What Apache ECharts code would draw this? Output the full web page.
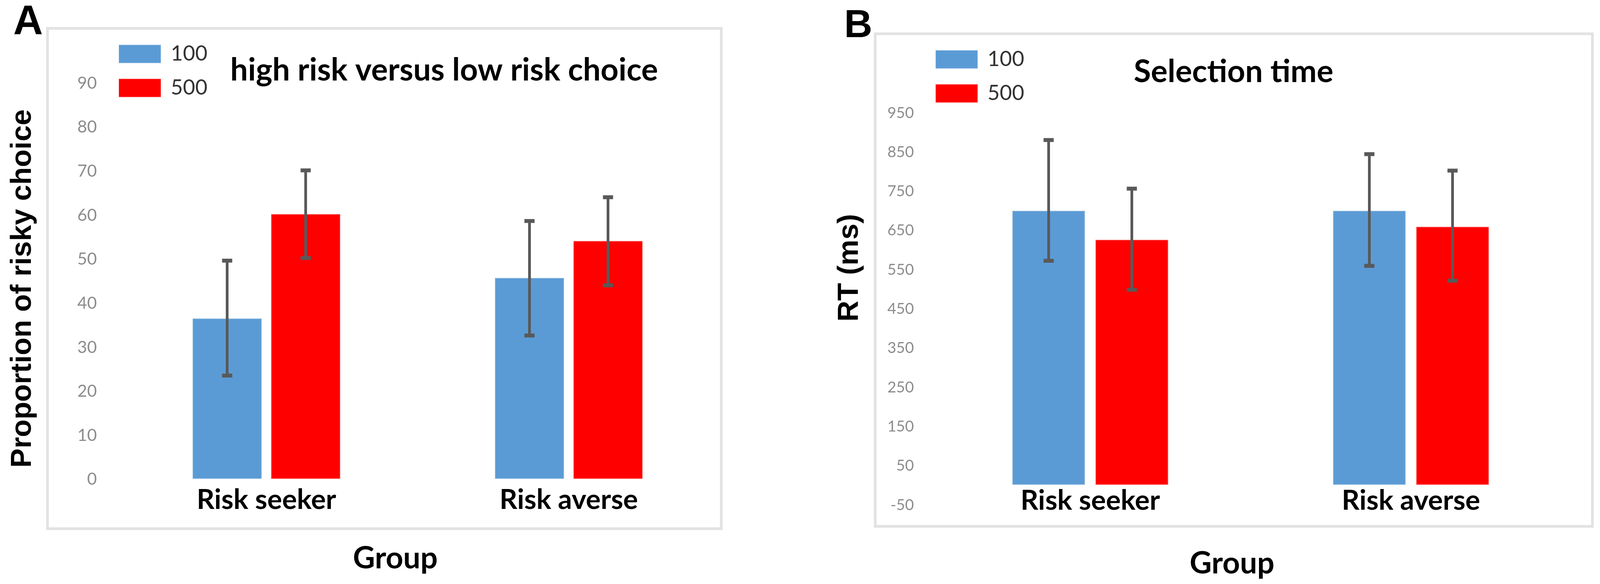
<!DOCTYPE html>
<html><head><meta charset="utf-8">
<script src="https://cdn.jsdelivr.net/npm/echarts@6/dist/echarts.min.js"></script>
<style>html,body{margin:0;padding:0;background:#fff}#c{width:4099px;height:1494px}</style>
</head><body><div id="c"></div>
<script>
// ---------- data ----------
const categories = ['Risk seeker', 'Risk averse'];
const seriesNames = ['100', '500'];
// Panel A: proportion of risky choice
const propMean100 = [36.7, 45.9];
const propMean500 = [60.4, 54.3];
const propLow100  = [23.6, 32.7];
const propHigh100 = [49.7, 58.7];
const propLow500  = [50.3, 44.1];
const propHigh500 = [70.2, 64.1];
const propAxis = [0, 90, 10];      // min, max, interval
// Panel B: selection time RT (ms)
const rtMean100 = [702, 702];
const rtMean500 = [628, 661];
const rtLow100  = [573, 560];
const rtHigh100 = [881, 845];
const rtLow500  = [499, 522];
const rtHigh500 = [757, 803];
const rtAxis = [-50, 950, 100];    // min, max, interval

// ---------- style ----------
const CAL = "Lato,'Noto Sans',sans-serif";
const SANS = "'Liberation Sans',Arial,sans-serif";
const BLUE = '#5b9bd5', RED = '#ff0000', ERR = '#595959';

function errSeries(gridIdx, low, high, offsetPx) {
  return {
    type: 'custom', xAxisIndex: gridIdx, yAxisIndex: gridIdx, z: 5, silent: true,
    data: low.map((l, i) => [i, l, high[i]]),
    encode: { x: 0, y: [1, 2] },
    renderItem: function (params, api) {
      const i = api.value(0);
      const pLow = api.coord([i, api.value(1)]);
      const pHigh = api.coord([i, api.value(2)]);
      const cx = pLow[0] + offsetPx;
      return { type: 'group', children: [
        { type: 'line', shape: { x1: cx, y1: pHigh[1], x2: cx, y2: pLow[1] }, style: { stroke: ERR, lineWidth: 7 } },
        { type: 'rect', shape: { x: cx - 13, y: pHigh[1] - 5, width: 26, height: 10 }, style: { fill: ERR } },
        { type: 'rect', shape: { x: cx - 13, y: pLow[1] - 5, width: 26, height: 10 }, style: { fill: ERR } }
      ]};
    }
  };
}

function barSeries(name, gridIdx, data, color, width, gap) {
  return { type: 'bar', name: name, xAxisIndex: gridIdx, yAxisIndex: gridIdx, data: data,
    barWidth: width, barGap: gap, silent: true,
    itemStyle: { color: color, borderColor: 'rgba(255,255,255,0.35)', borderWidth: 3 } };
}

function catAxis(gridIdx, margin, offset) {
  return { type: 'category', gridIndex: gridIdx, data: categories, offset: offset,
    axisTick: { show: false },
    axisLine: { show: false, onZero: false },
    axisLabel: { margin: margin, fontFamily: CAL, fontWeight: 'bold', fontSize: 71, color: '#000' } };
}
function valAxis(gridIdx, ax, size, margin) {
  return { type: 'value', gridIndex: gridIdx, min: ax[0], max: ax[1], interval: ax[2],
    axisLine: { show: false }, axisTick: { show: false }, splitLine: { show: false },
    axisLabel: { margin: margin, fontFamily: CAL, fontSize: size, color: '#8c8c8c' } };
}
function legend(left, top) {
  return { data: seriesNames, orient: 'vertical', left: left, top: top, itemWidth: 108, itemHeight: 47,
    itemGap: 33, icon: 'rect', selectedMode: false,
    textStyle: { fontFamily: CAL, fontSize: 54, color: '#333', padding: [0, 0, 0, 20] } };
}
function txt(x, y, text, size, opts) {
  opts = opts || {};
  return { type: 'text', x: x, y: y, rotation: opts.rot || 0, silent: true,
    style: { text: text, fill: '#000', font: 'bold ' + size + 'px ' + (opts.font || CAL),
      textAlign: 'center', textVerticalAlign: 'middle' } };
}

const chart = echarts.init(document.getElementById('c'), null, { renderer: 'canvas' });
chart.setOption({
  animation: false,
  backgroundColor: '#fff',
  grid: [
    { left: 295, top: 212.8, width: 1548, height: 1013.8 },
    { left: 2380.5, top: 289, width: 1642, height: 1003 }
  ],
  xAxis: [catAxis(0, 17, 0), catAxis(1, 4, -50.5)],
  yAxis: [valAxis(0, propAxis, 43, 47), valAxis(1, rtAxis, 39, 41)],
  legend: [legend(298, 106), legend(2389, 120)],
  series: [
    barSeries(seriesNames[0], 0, propMean100, BLUE, 180, '11.7%'),
    barSeries(seriesNames[1], 0, propMean500, RED, 180, '11.7%'),
    barSeries(seriesNames[0], 1, rtMean100, BLUE, 189, '12.7%'),
    barSeries(seriesNames[1], 1, rtMean500, RED, 189, '12.7%'),
    errSeries(0, propLow100, propHigh100, -100.5),
    errSeries(0, propLow500, propHigh500, 100.5),
    errSeries(1, rtLow100, rtHigh100, -106.5),
    errSeries(1, rtLow500, rtHigh500, 106.5)
  ],
  graphic: [
    { type: 'rect', silent: true, shape: { x: 121.5, y: 72.5, width: 1725, height: 1280 },
      style: { fill: 'none', stroke: '#e3e3e3', lineWidth: 7 }, z: -1 },
    { type: 'rect', silent: true, shape: { x: 2240.5, y: 86.5, width: 1836, height: 1260 },
      style: { fill: 'none', stroke: '#e3e3e3', lineWidth: 7 }, z: -1 },
    txt(72, 59, 'A', 105, { font: SANS }),
    txt(2197, 67, 'B', 100, { font: SANS }),
    txt(1137, 180, 'high risk versus low risk choice', 80),
    txt(3158, 184, 'Selection time', 80),
    txt(1012, 1429, 'Group', 78),
    txt(3154, 1442, 'Group', 78),
    txt(59, 738, 'Proportion of risky choice', 74, { font: SANS, rot: Math.PI / 2 }),
    txt(2176, 685, 'RT (ms)', 74, { font: SANS, rot: Math.PI / 2 })
  ]
});
</script>
</body></html>
